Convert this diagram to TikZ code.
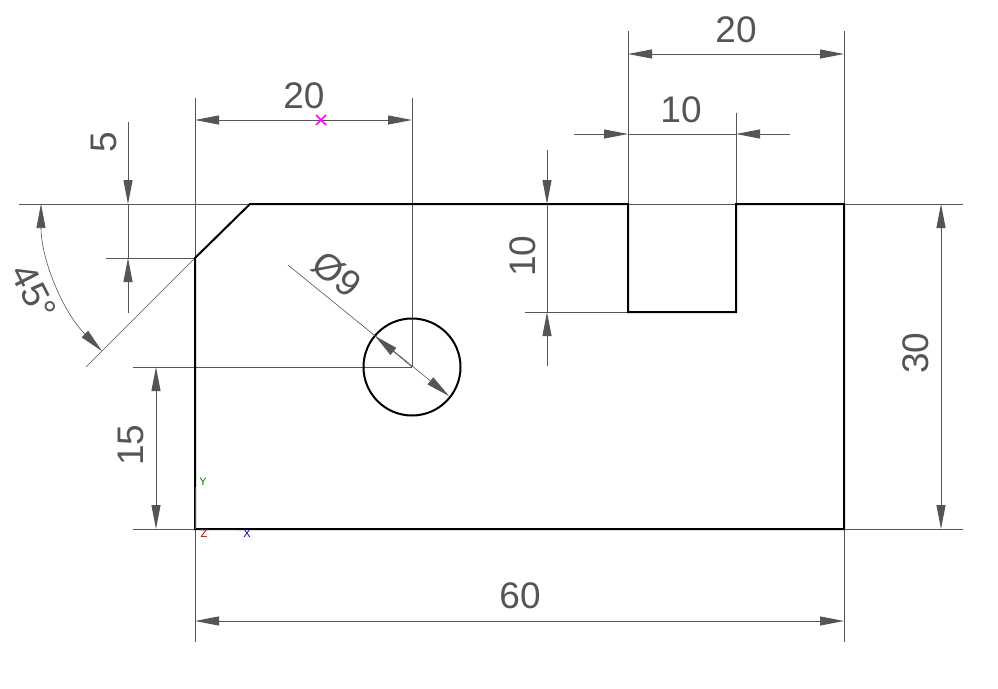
\documentclass[tikz,border=0pt]{standalone}
\usepackage{fontspec}
\setmainfont{Liberation Sans}
\usetikzlibrary{arrows.meta}
\definecolor{dimgray}{HTML}{555555}
\definecolor{gripcolor}{HTML}{FF00FF}
\begin{document}
\begin{tikzpicture}[x=1pt, y=-1pt, >={Triangle[length=24pt,width=9pt]},
    part/.style={line width=2pt, black, line join=miter},
    dimline/.style={line width=1pt, dimgray},
    thinline/.style={line width=0.6pt, dimgray},
    dimtext/.style={text=dimgray, font=\fontsize{37}{37}\selectfont, inner sep=0pt},
    icontext/.style={font=\fontsize{11}{11}\selectfont, inner sep=0pt}]
  \useasboundingbox[fill=white] (0,0) rectangle (998,688);

  % extension lines
  \foreach \y/\a/\b in {204/19/963, 529/133/963, 258/106/195, 312/525/628, 367/133/412}
    \draw[dimline] (\a,\y) -- (\b,\y);
  \foreach \x/\a/\b in {195/98/642, 412/98/367, 628/31/204, 844/31/642, 736/113/204}
    \draw[dimline] (\x,\a) -- (\x,\b);
  \draw[thinline] (195,258) -- (86,367);

  % part outline
  \draw[part] (195,529) -- (195,258) -- (250,204) -- (628,204) -- (628,312)
    -- (736,312) -- (736,204) -- (844,204) -- (844,529) -- cycle;
  \draw[part] (412,367) circle (48.5);

  % dimensions with arrows inside
  \foreach \y/\a/\b in {120/195/412, 54/628/844, 621/195/844}
    \draw[dimline,<->] (\a,\y) -- (\b,\y);
  \foreach \x/\a/\b in {156/367/529, 941/204/529}
    \draw[dimline,<->] (\x,\a) -- (\x,\b);

  % dimensions with arrows outside
  \draw[dimline] (628,134) -- (736,134);
  \draw[dimline,->] (574,134) -- (628,134);
  \draw[dimline,->] (790,134) -- (736,134);
  \foreach \x/\a/\b/\c/\d in {128/122/204/258/313, 547/150/204/312/366} {
    \draw[dimline] (\x,\b) -- (\x,\c);
    \draw[dimline,->] (\x,\a) -- (\x,\b);
    \draw[dimline,->] (\x,\d) -- (\x,\c);
  }

  % angle and diameter
  \draw[thinline,<->] (41,204) arc[start angle=180, end angle=135, radius=208];
  \draw[thinline,->] (288,265) -- (449,396);
  \draw[thinline,->] (412,367) -- (375,336);

  % labels
  \node[dimtext] (top20) at (304,96) {20};
  \node[dimtext] (slot20) at (736,30) {20};
  \node[dimtext] (slot10) at (681,110) {10};
  \node[dimtext] (total60) at (520,596) {60};
  \node[dimtext,rotate=90] (cham5) at (104,142) {5};
  \node[dimtext,rotate=90] (depth10) at (523,256) {10};
  \node[dimtext,rotate=90] (hole15) at (131,445) {15};
  \node[dimtext,rotate=90] (height30) at (916,353) {30};
  \node[dimtext,rotate=-63] (angle45) at (34,292) {45°};
  \node[dimtext,rotate=-39.5] (dia9) at (337,274) {Ø9};

  % selected grip
  \draw[line width=1.6pt, gripcolor] (316,115) -- (326,125) (316,125) -- (326,115);

  % ucs icon
  \draw[line width=1pt, green!50!black] (195.5,487) -- (195.5,529);
  \draw[line width=1pt, blue!60!black] (196,529) -- (237,529);
  \node[icontext,text=green!50!black] (ucsY) at (203,482) {Y};
  \node[icontext,text=blue!70!black] (ucsX) at (247,534) {X};
  \node[icontext,text=red!70!black] (ucsZ) at (204,534) {Z};
\end{tikzpicture}
\end{document}
